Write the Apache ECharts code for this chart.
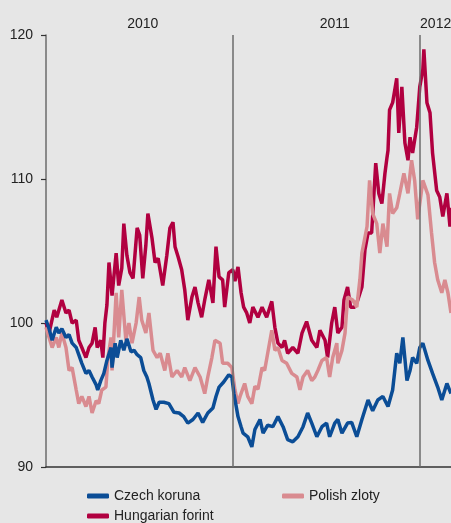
<!DOCTYPE html>
<html>
<head>
<meta charset="utf-8">
<script src="https://cdn.jsdelivr.net/npm/echarts@6/dist/echarts.min.js"></script>
<style>
html,body{margin:0;padding:0;background:#e6e6e6;}
#chart{width:451px;height:523px;}
</style>
</head>
<body>
<div id="chart"></div>
<script>
// x values: days since 1 Jan 2010
const czechKoruna = [
[0,100.2],[6,99.6],[12,98.8],[20,99.7],[25,99.3],[31,99.6],[39,99.0],[45,99.2],[51,98.6],[59,98.3],[64,97.8],[70,97.2],[78,96.5],[84,96.7],[90,96.25],[98,95.7],[101,95.35],[107,96.0],[113,96.5],[119,97.4],[127,98.3],[129,96.9],[135,98.6],[139,97.6],[146,98.8],[152,98.1],[158,98.9],[166,98.0],[172,98.1],[178,97.8],[185,97.6],[191,96.7],[197,96.25],[201,95.8],[209,94.65],[215,94.0],[221,94.5],[230,94.5],[240,94.4],[250,93.8],[260,93.75],[269,93.5],[277,93.05],[287,93.3],[297,93.75],[306,93.1],[316,93.75],[326,94.1],[332,94.9],[338,95.55],[347,95.9],[357,96.4],[363,96.25],[367,95.1],[375,93.5],[381,92.8],[385,92.35],[394,92.1],[402,91.4],[408,92.6],[418,93.3],[424,92.35],[433,92.9],[443,92.8],[453,93.5],[463,92.8],[472,91.9],[482,91.75],[492,92.1],[502,92.8],[511,93.75],[519,93.05],[529,92.1],[539,92.8],[548,93.05],[554,92.1],[564,93.05],[570,93.3],[578,92.35],[589,93.05],[597,93.1],[607,92.1],[617,93.3],[629,94.65],[638,93.9],[648,94.65],[658,94.9],[668,94.2],[677,95.35],[685,97.9],[691,97.2],[697,99.0],[705,96.0],[711,96.7],[716,97.6],[724,97.2],[730,98.3],[736,98.6],[746,97.4],[755,96.5],[765,95.55],[773,94.65],[783,95.8],[791,95.1]
];
const polishZloty = [
[0,99.7],[6,99.0],[12,98.3],[20,99.0],[25,98.3],[31,99.3],[39,98.3],[45,96.7],[51,96.9],[59,95.35],[64,94.4],[70,94.9],[78,94.2],[84,94.9],[90,93.75],[98,94.6],[103,94.4],[109,95.35],[117,95.55],[121,97.6],[127,99.0],[129,96.7],[137,102.1],[142,99.0],[148,102.3],[156,98.8],[162,100.0],[168,98.6],[176,100.0],[182,101.8],[187,100.2],[195,99.3],[201,100.7],[209,98.1],[217,97.6],[223,97.9],[232,96.7],[238,97.9],[246,96.25],[256,96.7],[265,96.25],[271,96.9],[281,96.0],[291,96.9],[301,96.25],[310,95.1],[316,96.25],[324,97.6],[330,98.8],[340,98.6],[345,97.2],[355,97.2],[363,96.9],[369,95.35],[375,94.4],[379,94.9],[388,95.8],[394,94.9],[402,94.4],[408,95.6],[414,95.4],[422,96.9],[427,96.7],[433,97.9],[441,99.5],[447,98.1],[453,98.3],[461,97.4],[470,97.2],[480,96.5],[490,96.25],[496,95.35],[502,96.25],[511,96.7],[519,96.0],[525,96.25],[531,96.7],[539,97.4],[548,97.6],[554,96.25],[560,97.6],[568,98.6],[570,97.2],[578,98.1],[584,99.3],[589,101.8],[599,101.6],[607,101.1],[613,103.0],[617,104.85],[627,106.7],[632,109.9],[638,107.6],[646,106.9],[652,104.85],[658,106.9],[666,105.3],[671,109.0],[677,107.6],[685,108.0],[691,109.0],[699,110.4],[707,109.0],[714,111.3],[720,109.9],[726,107.2],[736,109.9],[746,108.9],[753,106.25],[759,104.2],[765,103.0],[773,102.1],[779,103.0],[785,102.1],[791,100.7]
];
const hungarianForint = [
[0,100.0],[6,99.3],[16,100.9],[21,100.4],[31,101.6],[39,100.7],[45,100.9],[51,100.0],[59,100.2],[64,98.8],[70,98.3],[78,97.6],[84,98.3],[90,98.6],[96,99.7],[100,98.3],[107,98.8],[111,97.6],[115,100.0],[119,101.25],[123,104.2],[129,101.9],[137,104.85],[142,102.6],[148,103.8],[152,106.9],[158,104.7],[164,103.5],[170,103.1],[178,106.6],[183,106.1],[189,103.1],[195,105.4],[199,107.6],[207,105.9],[213,104.2],[219,104.5],[228,102.6],[236,104.7],[242,106.6],[248,107.0],[252,105.3],[258,104.6],[265,103.7],[271,102.3],[277,100.2],[285,101.8],[291,102.5],[297,101.4],[304,100.4],[310,101.6],[318,103.0],[326,101.4],[332,105.3],[338,103.2],[345,103.0],[349,101.1],[357,103.5],[365,103.7],[369,102.9],[375,103.9],[381,102.1],[386,101.1],[392,100.7],[398,100.0],[404,101.1],[414,100.4],[422,101.1],[431,100.4],[441,101.5],[447,99.7],[453,98.6],[461,98.3],[466,98.8],[472,97.9],[482,98.3],[492,97.9],[500,99.3],[509,100.1],[519,98.8],[529,98.3],[535,99.5],[545,98.8],[550,97.6],[558,100.0],[564,101.1],[570,99.3],[578,99.7],[582,101.6],[589,102.5],[595,101.1],[603,101.1],[609,101.6],[617,102.5],[623,105.1],[629,106.25],[636,106.25],[644,111.1],[650,109.0],[656,108.3],[662,110.4],[666,111.5],[668,112.0],[671,114.8],[677,115.3],[685,117.0],[689,113.2],[695,116.4],[701,112.5],[707,111.3],[711,112.9],[716,111.8],[724,113.6],[730,116.4],[736,117.6],[738,119.0],[744,115.3],[750,114.6],[755,111.8],[763,109.2],[769,108.75],[775,107.4],[783,109.0],[789,106.7],[791,108.0]
];
const yearBoundaries = [365, 730];
const yearLabelPositions = [189, 564, 761];
const yearLabels = ['2010', '2011', '2012'];

const FONT = 'Liberation Sans';
const chart = echarts.init(document.getElementById('chart'), null, {renderer: 'canvas'});
const legendBase = {
  orient: 'horizontal', padding: 0, itemWidth: 22, itemHeight: 5, itemGap: 8,
  icon: 'roundRect',
  textStyle: {fontFamily: FONT, fontSize: 14, color: '#222'}
};
chart.setOption({
  backgroundColor: '#e6e6e6',
  animation: false,
  grid: {left: 46, right: 0, top: 35, bottom: 56, containLabel: false, outerBoundsMode: 'none'},
  legend: [
    Object.assign({}, legendBase, {data: ['Czech koruna'], left: 87, top: 489}),
    Object.assign({}, legendBase, {data: ['Polish zloty'], left: 282, top: 489}),
    Object.assign({}, legendBase, {data: ['Hungarian forint'], left: 87, top: 509})
  ],
  xAxis: [
    {type: 'value', min: 0, max: 791, position: 'bottom',
     axisLine: {show: true, lineStyle: {color: '#333', width: 1.5}},
     axisTick: {show: false}, axisLabel: {show: false}, splitLine: {show: false}},
    {type: 'value', min: 0, max: 791, position: 'top',
     axisLine: {show: false}, axisTick: {show: false}, splitLine: {show: false},
     axisLabel: {show: true, customValues: yearLabelPositions, margin: 4,
       fontFamily: FONT, fontSize: 14, color: '#222',
       formatter: function (v) { const i = yearLabelPositions.indexOf(v); return i >= 0 ? yearLabels[i] : ''; }}}
  ],
  yAxis: {
    type: 'value', min: 90, max: 120, interval: 10,
    axisLine: {show: true, lineStyle: {color: '#6b6b6b', width: 1.5}},
    axisTick: {show: true, length: 5, lineStyle: {color: '#333', width: 1.2}},
    axisLabel: {margin: 13, fontFamily: FONT, fontSize: 14, color: '#222'},
    splitLine: {show: false}
  },
  series: [
    {name: 'Hungarian forint', type: 'line', data: hungarianForint, showSymbol: false, symbol: 'none',
     lineStyle: {color: '#b10040', width: 3.5}, itemStyle: {color: '#b10040'}, z: 2},
    {name: 'Polish zloty', type: 'line', data: polishZloty, showSymbol: false, symbol: 'none',
     lineStyle: {color: '#d98b90', width: 3.5}, itemStyle: {color: '#d98b90'}, z: 3},
    {name: 'Czech koruna', type: 'line', data: czechKoruna, showSymbol: false, symbol: 'none',
     lineStyle: {color: '#0b4d96', width: 3.5}, itemStyle: {color: '#0b4d96'}, z: 4,
     markLine: {silent: true, symbol: ['none', 'none'], label: {show: false},
       lineStyle: {color: '#6b6b6b', width: 1.5, type: 'solid'},
       data: yearBoundaries.map(d => ({xAxis: d})), z: 10}}
  ]
});
</script>
</body>
</html>
